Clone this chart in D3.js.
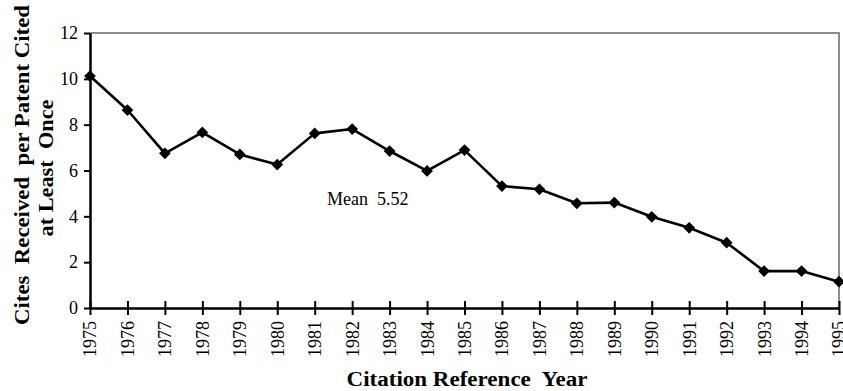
<!DOCTYPE html>
<html>
<head>
<meta charset="utf-8">
<script src="https://cdn.jsdelivr.net/npm/d3@7"></script>
<style>
  html, body { margin: 0; padding: 0; background: #fff; }
  svg { display: block; }
  svg text { font-family: "Liberation Serif", "Times New Roman", "DejaVu Serif", serif; fill: #000; }
</style>
</head>
<body>
<svg id="chart" width="843" height="391"></svg>
<script>
// Citation reference years and average cites received
const years = [1975, 1976, 1977, 1978, 1979, 1980, 1981, 1982, 1983, 1984, 1985,
               1986, 1987, 1988, 1989, 1990, 1991, 1992, 1993, 1994, 1995];
const cites = [10.12, 8.64, 6.75, 7.66, 6.70, 6.26, 7.62, 7.81, 6.85, 5.98, 6.89,
               5.32, 5.18, 4.57, 4.60, 3.98, 3.50, 2.85, 1.61, 1.61, 1.15];
const yTicks = [0, 2, 4, 6, 8, 10, 12];
const meanLabel = "Mean  5.52";

const serif = "'Liberation Serif', 'Times New Roman', serif";
const svg = d3.select("#chart");
const plot = { left: 90, right: 839, top: 33, bottom: 308 };

const x = d3.scaleLinear().domain([years[0], years[years.length - 1]]).range([plot.left, plot.right]);
const y = d3.scaleLinear().domain([0, 12]).range([plot.bottom, plot.top]);

// Plot frame: gray top and right edges
svg.append("path")
  .attr("d", `M${plot.left},${plot.top}H${plot.right}V${plot.bottom}`)
  .attr("fill", "none")
  .attr("stroke", "#8c8c8c")
  .attr("stroke-width", 2);

// Y axis
const yAxis = svg.append("g")
  .attr("transform", `translate(${plot.left},0)`)
  .attr("font-family", serif)
  .call(d3.axisLeft(y).tickValues(yTicks).tickSize(6).tickSizeOuter(0).tickPadding(6).tickFormat(d3.format("d")));
yAxis.select(".domain").attr("stroke", "#000").attr("stroke-width", 2.5);
yAxis.selectAll(".tick line").attr("stroke", "#000").attr("stroke-width", 2);
yAxis.selectAll(".tick text")
  .style("font-family", serif)
  .style("font-size", "18px")
  .attr("fill", "#000");

// X axis with ticks crossing the axis line
const xAxis = svg.append("g")
  .attr("transform", `translate(0,${plot.bottom})`)
  .attr("font-family", serif)
  .call(d3.axisBottom(x).tickValues(years).tickSize(7).tickSizeOuter(0).tickPadding(0).tickFormat(d3.format("d")));
xAxis.select(".domain").attr("stroke", "#000").attr("stroke-width", 2.5);
xAxis.selectAll(".tick line").attr("stroke", "#000").attr("stroke-width", 2).attr("y1", -7);
xAxis.selectAll(".tick text")
  .style("font-family", serif)
  .style("font-size", "18px")
  .attr("fill", "#000")
  .attr("text-anchor", "end")
  .attr("dy", "0.33em")
  .attr("transform", "translate(0,13) rotate(-90)")
  .attr("x", 0)
  .attr("y", 0);

// Series line
const line = d3.line().x((d, i) => x(years[i])).y(d => y(d));
svg.append("path")
  .datum(cites)
  .attr("d", line)
  .attr("fill", "none")
  .attr("stroke", "#000")
  .attr("stroke-width", 2.6)
  .attr("stroke-linejoin", "round");

// Diamond markers
const diamond = d3.symbol().type(d3.symbolDiamond2).size(88);
svg.append("g").selectAll("path")
  .data(cites)
  .join("path")
  .attr("d", diamond)
  .attr("transform", (d, i) => `translate(${x(years[i])},${y(d)})`)
  .attr("fill", "#000");

// Mean annotation
svg.append("text")
  .attr("x", 327)
  .attr("y", 205)
  .attr("xml:space", "preserve")
  .style("font-family", serif)
  .style("font-size", "18px")
  .style("white-space", "pre")
  .text(meanLabel);

// Axis titles (wide bold serif lettering)
function title(text, transform, size, length) {
  return svg.append("text")
    .attr("transform", transform)
    .attr("text-anchor", "middle")
    .attr("xml:space", "preserve")
    .attr("textLength", length)
    .attr("lengthAdjust", "spacingAndGlyphs")
    .style("white-space", "pre")
    .style("font-family", serif)
    .style("font-size", size + "px")
    .style("font-weight", "bold")
    .text(text);
}
title("Cites  Received  per Patent Cited", "translate(29,165) rotate(-90)", 20, 320);
title("at Least  Once", "translate(53,168) rotate(-90)", 20, 137);
title("Citation Reference  Year", "translate(467,386)", 20, 241);
</script>
</body>
</html>
